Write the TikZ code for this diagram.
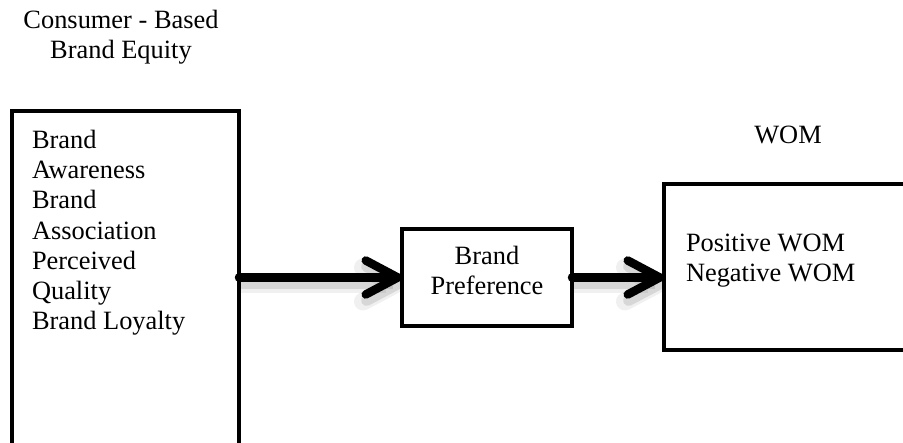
\documentclass[tikz,border=0pt]{standalone}
\usepackage{fontspec}
\setmainfont{Liberation Serif}
\usetikzlibrary{arrows.meta}
\begin{document}
\begin{tikzpicture}[x=1pt,y=-1pt,
  box/.style={draw, line width=4.5pt, inner sep=0pt, outer sep=0pt, anchor=north west},
  lbl/.style={inner sep=0pt, outer sep=0pt, font=\fontsize{26.4}{30.3}\selectfont},
  bigarrow/.style={line width=8.5pt, line cap=round,
     -{Straight Barb[length=32pt,width=34pt,round]},
     preaction={draw=black, opacity=0.06, line width=18pt, transform canvas={shift={(2pt,-7pt)}}},
     preaction={draw=black, opacity=0.10, line width=11pt, transform canvas={shift={(2pt,-6pt)}}}},
]
\useasboundingbox (0,0) rectangle (903,443);
\clip (0,0) rectangle (903,443);
\fill[white] (0,0) rectangle (903,443);

\node[box, minimum width=227pt, minimum height=345pt] (lb) at (12,111) {};
\node[box, minimum width=170pt, minimum height=97pt] (mb) at (402,229) {};
\node[box, minimum width=260pt, minimum height=166pt] (rb) at (664,184) {};

\node[lbl, align=center, anchor=base] (title) at (121,59) {Consumer - Based\\Brand Equity};
\node[lbl, anchor=base] (wom) at (788,144) {WOM};
\node[lbl, align=left, anchor=base west] (ltxt) at (32,330) {Brand\\Awareness\\Brand\\Association\\Perceived\\Quality\\Brand Loyalty};
\node[lbl, align=center, anchor=base] (mtxt) at (487,295) {Brand\\Preference};
\node[lbl, align=left, anchor=base west] (rtxt) at (686,282) {Positive WOM\\Negative WOM};

\draw[bigarrow] (lb.east |- mb.west) -- (mb.west);
\draw[bigarrow] (mb.east) -- (rb.west |- mb.east);
\end{tikzpicture}
\end{document}
